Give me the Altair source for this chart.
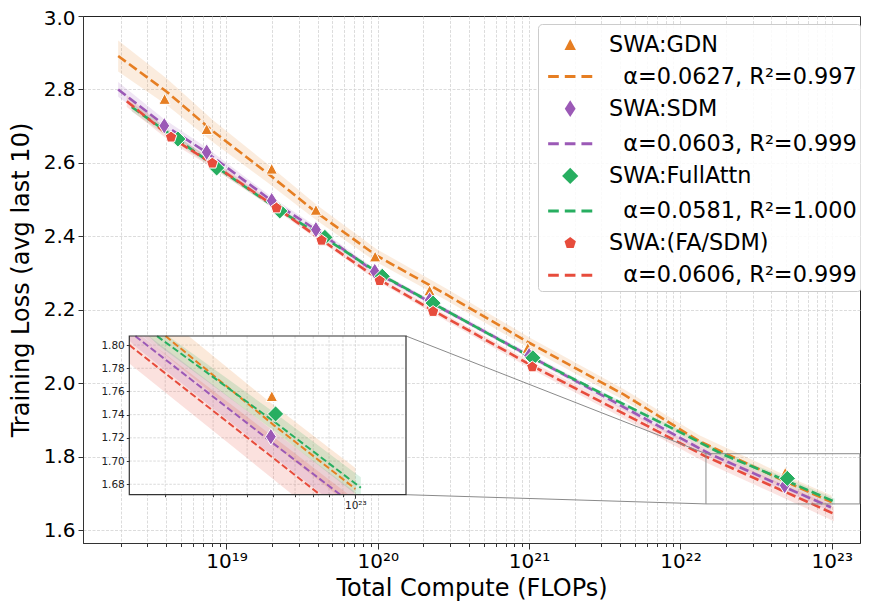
import altair as alt
import pandas as pd
import numpy as np

# ---------------- data ----------------
SERIES = ["SWA:GDN", "SWA:SDM", "SWA:FullAttn", "SWA:(FA/SDM)"]
FITS = ["α=0.0627, R²=0.997", "α=0.0603, R²=0.999", "α=0.0581, R²=1.000", "α=0.0606, R²=0.999"]
COLORS = ["#e67e22", "#9b59b6", "#27ae60", "#e74c3c"]

# measured runs: total compute (FLOPs) and training loss
GDN_C = [3.9e18, 7.4e18, 1.99e19, 3.9e19, 9.6e19, 2.2e20, 9.8e20, 4.93e22]
GDN_L = [2.774, 2.692, 2.584, 2.472, 2.345, 2.2525, 2.096, 1.756]
SDM_C = [3.88e18, 7.4e18, 1.99e19, 3.9e19, 9.55e19, 2.2e20, 1.0e21, 4.89e22]
SDM_L = [2.701, 2.629, 2.497, 2.418, 2.304, 2.226, 2.075, 1.721]
FULL_C = [4.77e18, 8.61e18, 2.25e19, 4.47e19, 1.07e20, 2.32e20, 1.06e21, 5.09e22]
FULL_L = [2.665, 2.586, 2.469, 2.397, 2.291, 2.218, 2.069, 1.7406]
FASDM_C = [4.3e18, 8.06e18, 2.14e19, 4.25e19, 1.03e20, 2.32e20, 1.05e21]
FASDM_L = [2.670, 2.599, 2.477, 2.389, 2.279, 2.195, 2.044]

# fitted curves: log10(compute), loss, band half-width
GDN_FIT_E = [18.284, 18.607, 18.911, 19.267, 19.597, 19.993, 20.455, 21.0, 21.63, 22.125, 22.7, 23.0]
GDN_FIT_L = [2.891, 2.793, 2.686, 2.573, 2.464, 2.347, 2.241, 2.110, 1.968, 1.842, 1.731, 1.676]
GDN_BAND = [0.042, 0.036, 0.030, 0.025, 0.021, 0.018, 0.016, 0.015, 0.015, 0.016, 0.017, 0.018]
SDM_FIT_E = [18.284, 18.589, 18.869, 19.298, 19.591, 19.98, 20.34, 21.0, 22.195, 22.699, 22.995]
SDM_FIT_L = [2.800, 2.703, 2.628, 2.497, 2.418, 2.303, 2.222, 2.075, 1.807, 1.715, 1.662]
SDM_BAND = [0.020, 0.016, 0.013, 0.010, 0.009, 0.008, 0.007, 0.007, 0.009, 0.011, 0.012]
FULL_FIT_E = [18.374, 18.678, 18.935, 19.353, 19.65, 20.031, 20.365, 21.025, 21.5, 22.0, 22.275, 22.707, 23.02]
FULL_FIT_L = [2.752, 2.663, 2.588, 2.470, 2.395, 2.293, 2.217, 2.068, 1.968, 1.866, 1.807, 1.733, 1.677]
FULL_BAND = [0.012, 0.010, 0.008, 0.006, 0.005, 0.005, 0.004, 0.004, 0.005, 0.006, 0.007, 0.008, 0.009]
FASDM_FIT_E = [18.341, 18.634, 18.906, 19.331, 19.628, 20.013, 20.365, 21.021, 22.169, 22.87, 23.015]
FASDM_FIT_L = [2.768, 2.669, 2.598, 2.478, 2.390, 2.281, 2.198, 2.047, 1.800, 1.671, 1.644]
FASDM_BAND = [0.016, 0.013, 0.011, 0.008, 0.007, 0.007, 0.008, 0.010, 0.016, 0.019, 0.020]

Y_TICKS = [1.6, 1.8, 2.0, 2.2, 2.4, 2.6, 2.8, 3.0]
INSET_Y_TICKS = [1.68, 1.70, 1.72, 1.74, 1.76, 1.78, 1.80]

POINTS_C = [GDN_C, SDM_C, FULL_C, FASDM_C]
POINTS_L = [GDN_L, SDM_L, FULL_L, FASDM_L]
FIT_E = [GDN_FIT_E, SDM_FIT_E, FULL_FIT_E, FASDM_FIT_E]
FIT_L = [GDN_FIT_L, SDM_FIT_L, FULL_FIT_L, FASDM_FIT_L]
FIT_B = [GDN_BAND, SDM_BAND, FULL_BAND, FASDM_BAND]

# ---------------- layout / style ----------------
W, H = 777, 527
PX_PER_DEC = 151.3
X_LO = 18.0516                          # log10 limits of the main x axis
X_HI = X_LO + W / PX_PER_DEC
Y_LO, Y_HI = 1.5646, 3.0
IX_LO, IX_HI = 22.169, 23.186          # inset limits
IY_LO, IY_HI = 1.671, 1.8078
IN_RX = [46.3, 323.0]                  # inset pixel box inside the plot
IN_RY = [478.7, 320.0]

FONT = "DejaVu Sans"
TRI = "M0,-0.36L0.38,0.36L-0.38,0.36Z"
THIN_D = "M0,-0.56L0.36,0L0,0.56L-0.36,0Z"
DIAM = "M0,-0.54L0.54,0L0,0.54L-0.54,0Z"
PENT = "M0,-0.4L0.38,-0.124L0.235,0.324L-0.235,0.324L-0.38,-0.124Z"
DASH = "M-1.47,0L-0.76,0M-0.36,0L0.35,0M0.75,0L1.47,0"
SHAPES = [TRI, THIN_D, DIAM, PENT]

SUP = {"0": "⁰", "1": "¹", "2": "²", "3": "³", "4": "⁴", "5": "⁵", "6": "⁶", "7": "⁷", "8": "⁸", "9": "⁹"}
LOGV = "(log(datum.value)/LN10)"
MAJOR = f"abs({LOGV} - round({LOGV})) < 0.001"


def exp_label_expr(exps):
    inner = "''"
    for e in reversed(exps):
        s = "".join(SUP[d] for d in str(e))
        inner = f"(round({LOGV}) == {e} ? '10{s}' : {inner})"
    return f"{MAJOR} ? {inner} : ''"


main_ticks = [k * 10.0 ** e for e in range(18, 23) for k in range(1, 10)] + [1e23]
main_ticks = [v for v in main_ticks if 10 ** X_LO <= v <= 10 ** X_HI]
inset_ticks = [k * 1e22 for k in range(2, 10)] + [1e23]

GRID = dict(grid=True, gridColor="#d3d3d3", gridDash=[3, 1.5], gridWidth=0.8)

x_main_scale = alt.Scale(type="log", domain=[10 ** X_LO, 10 ** X_HI], nice=False)
y_main_scale = alt.Scale(domain=[Y_LO, Y_HI], nice=False, zero=False)

x_main_axis = alt.Axis(
    values=main_ticks, labelExpr=exp_label_expr([19, 20, 21, 22, 23]),
    tickSize={"condition": {"test": MAJOR, "value": 6}, "value": 3.5},
    tickColor="#333", domainColor="#333", labelFontSize=20, labelFont=FONT,
    labelColor="black", labelPadding=2, labelOverlap=False, labelFlush=False,
    title="Total Compute (FLOPs)", titleFontSize=24, titleFont=FONT,
    titleFontWeight="normal", titleColor="black", titlePadding=5, **GRID)
y_main_axis = alt.Axis(
    values=Y_TICKS, format=".1f", tickSize=5, tickColor="#333", domainColor="#333",
    labelFontSize=20, labelFont=FONT, labelColor="black", labelPadding=3,
    labelFlush=False, labelOverlap=False,
    labelOffset={"condition": {"test": "datum.value > 2.99", "value": 2.5}, "value": 0},
    title="Training Loss (avg last 10)", titleFontSize=24, titleFont=FONT,
    titleFontWeight="normal", titleColor="black", titlePadding=10,
    grid=True, gridColor="#d3d3d3", gridDash=[3, 1.5], gridWidth=0.8,
    gridOpacity={"condition": {"test": "datum.value > 2.99", "value": 0}, "value": 1})


def XM(field="c"):
    return alt.X(f"{field}:Q", scale=x_main_scale, axis=x_main_axis)


def YM(field="l"):
    return alt.Y(f"{field}:Q", scale=y_main_scale, axis=y_main_axis)


x_in_scale = alt.Scale(type="log", domain=[10 ** IX_LO, 10 ** IX_HI], range=IN_RX, nice=False, clamp=True)
y_in_scale = alt.Scale(domain=[IY_LO, IY_HI], range=IN_RY, nice=False, zero=False, clamp=True)
x_in_axis = alt.Axis(
    orient="bottom", offset=-(H - IN_RY[0]), values=inset_ticks,
    labelExpr=exp_label_expr([23]),
    tickSize={"condition": {"test": MAJOR, "value": 3.5}, "value": 2},
    tickColor="#333", domain=False, grid=False, labelFontSize=10.5, labelFont=FONT,
    labelColor="#222", labelPadding=2, labelOverlap=False, labelFlush=False,
    title=None, zindex=1)
y_in_axis = alt.Axis(
    orient="left", offset=-IN_RX[0], values=INSET_Y_TICKS, format=".2f",
    tickSize=3, tickColor="#333", domain=False, grid=False, labelFontSize=10.5,
    labelFont=FONT, labelColor="#222", labelPadding=2, labelOverlap=False,
    labelFlush=False, title=None, zindex=1)


def XI(field="c"):
    return alt.X(f"{field}:Q", scale=x_in_scale, axis=x_in_axis)


def YI(field="l"):
    return alt.Y(f"{field}:Q", scale=y_in_scale, axis=y_in_axis)


# ---------------- helpers for the inset clipping ----------------
def clip_segment(x0, y0, x1, y1):
    dx, dy = x1 - x0, y1 - y0
    t0, t1 = 0.0, 1.0
    for p, q in ((-dx, x0 - IX_LO), (dx, IX_HI - x0), (-dy, y0 - IY_LO), (dy, IY_HI - y0)):
        if p == 0:
            if q < 0:
                return None
        else:
            t = q / p
            if p < 0:
                t0 = max(t0, t)
            else:
                t1 = min(t1, t)
    if t0 > t1:
        return None
    return (x0 + t0 * dx, y0 + t0 * dy), (x0 + t1 * dx, y0 + t1 * dy)


def clip_polyline(xs, ys):
    pts = []
    for i in range(len(xs) - 1):
        seg = clip_segment(xs[i], ys[i], xs[i + 1], ys[i + 1])
        if seg:
            for p in seg:
                if not pts or abs(pts[-1][0] - p[0]) > 1e-9:
                    pts.append(p)
    return pts


def clip_band(xs, ups, los):
    xs = np.array(xs)
    ups = np.array(ups)
    los = np.array(los)
    lo_x, hi_x = max(IX_LO, xs[0]), min(IX_HI, xs[-1])
    cand = {lo_x, hi_x} | {x for x in xs if lo_x <= x <= hi_x}
    for arr in (ups, los):
        for i in range(len(xs) - 1):
            for lvl in (IY_LO, IY_HI):
                a, b = arr[i] - lvl, arr[i + 1] - lvl
                if a * b < 0:
                    xc = xs[i] + (xs[i + 1] - xs[i]) * a / (a - b)
                    if lo_x <= xc <= hi_x:
                        cand.add(xc)
    rows = []
    for x in sorted(cand):
        u = float(np.clip(np.interp(x, xs, ups), IY_LO, IY_HI))
        lo = float(np.clip(np.interp(x, xs, los), IY_LO, IY_HI))
        rows.append({"c": 10 ** x, "u": u, "lo": lo})
    return pd.DataFrame(rows)


# ---------------- main panel ----------------
main_layers = []
inset_bands, inset_lines, inset_points = [], [], []
for i in range(4):
    e = np.array(FIT_E[i])
    ly = np.array(FIT_L[i])
    hw = np.array(FIT_B[i])
    band = pd.DataFrame({"c": 10 ** e, "u": ly + hw, "lo": ly - hw})
    main_layers.append(
        alt.Chart(band).mark_area(color=COLORS[i], opacity=0.15).encode(
            x=XM(), y=YM("u"), y2=alt.Y2("lo:Q")))
    ib = clip_band(e, ly + hw, ly - hw)
    inset_bands.append(
        alt.Chart(ib).mark_area(color=COLORS[i], opacity=0.17).encode(
            x=XI(), y=YI("u"), y2=alt.Y2("lo:Q")))
    pts = clip_polyline(list(e), list(ly))
    il = pd.DataFrame({"c": [10 ** p[0] for p in pts], "l": [p[1] for p in pts]})
    inset_lines.append(
        alt.Chart(il).mark_line(color=COLORS[i], strokeWidth=2, strokeDash=[6.7, 3]).encode(
            x=XI(), y=YI(), order="c:Q"))

for i in range(4):
    line = pd.DataFrame({"c": 10 ** np.array(FIT_E[i]), "l": FIT_L[i]})
    main_layers.append(
        alt.Chart(line).mark_line(color=COLORS[i], strokeWidth=2.6, strokeDash=[9.5, 4]).encode(
            x=XM(), y=YM(), order="c:Q"))

for i in range(4):
    p = pd.DataFrame({"c": POINTS_C[i], "l": POINTS_L[i]})
    main_layers.append(
        alt.Chart(p).mark_point(shape=SHAPES[i], filled=True, fill=COLORS[i], stroke="white",
                                strokeWidth=1, size=900, opacity=1).encode(x=XM(), y=YM()))
    pin = p[(np.log10(p["c"]) > IX_LO) & (np.log10(p["c"]) < IX_HI) & (p["l"] > IY_LO) & (p["l"] < IY_HI)]
    if len(pin):
        inset_points.append(
            alt.Chart(pin).mark_point(shape=SHAPES[i], filled=True, fill=COLORS[i], stroke="white",
                                      strokeWidth=1, size=900, opacity=1).encode(x=XI(), y=YI()))

# zoom indicator rectangle and connector lines (in main data units)
zoom_box = pd.DataFrame({"c": [10 ** IX_LO], "c2": [10 ** IX_HI], "l": [IY_LO], "l2": [IY_HI]})
main_layers.append(
    alt.Chart(zoom_box).mark_rect(filled=False, stroke="#8a8a8a", strokeWidth=1).encode(
        x=XM(), x2=alt.X2("c2:Q"), y=YM(), y2=alt.Y2("l2:Q")))
corner_e = X_LO + IN_RX[1] / W * (X_HI - X_LO)
corner_top = Y_HI - IN_RY[1] / H * (Y_HI - Y_LO)
corner_bot = Y_HI - IN_RY[0] / H * (Y_HI - Y_LO)
connectors = pd.DataFrame({"c": [10 ** corner_e, 10 ** corner_e], "c2": [10 ** IX_LO, 10 ** IX_LO],
                           "l": [corner_top, corner_bot], "l2": [IY_HI, IY_LO]})
main_layers.append(
    alt.Chart(connectors).mark_rule(color="#8a8a8a", strokeWidth=1).encode(
        x=XM(), x2=alt.X2("c2:Q"), y=YM(), y2=alt.Y2("l2:Q")))

# legend (entries drawn by the legend; the carrier points lie outside the view and are clipped)
ZW = "\u200b"
leg_labels, leg_fill, leg_stroke, leg_shape = [], [], [], []
for i in range(4):
    leg_labels += [SERIES[i], ZW + "\u00a0\u00a0" + FITS[i]]
    leg_fill += [COLORS[i], COLORS[i]]
    leg_stroke += ["transparent", COLORS[i]]
    leg_shape += [SHAPES[i], DASH]
leg_df = pd.DataFrame({"label": leg_labels, "c": [1e20] * 8, "l": [10.0] * 8})
legend = alt.Legend(
    title=None, orient="none", legendX=455, legendY=8, padding=4, rowPadding=4.1,
    symbolSize=900, symbolOffset=11.7, labelOffset=22.3, labelFontSize=22.4, labelFont=FONT,
    labelColor="black", labelLimit=600, strokeColor="#cccccc", fillColor="rgba(255,255,255,0.85)",
    cornerRadius=4, symbolStrokeWidth=3, symbolOpacity=1)
main_layers.append(
    alt.Chart(leg_df).mark_point(filled=True, size=900, strokeWidth=3, opacity=1, clip=True).encode(
        x=XM(), y=YM(),
        fill=alt.Fill("label:N", scale=alt.Scale(domain=leg_labels, range=leg_fill), legend=legend),
        stroke=alt.Stroke("label:N", scale=alt.Scale(domain=leg_labels, range=leg_stroke)),
        shape=alt.Shape("label:N", scale=alt.Scale(domain=leg_labels, range=leg_shape))))

main = alt.LayerChart(layer=main_layers)

# ---------------- inset ----------------
inset_box = pd.DataFrame({"c": [10 ** IX_LO], "c2": [10 ** IX_HI], "l": [IY_LO], "l2": [IY_HI]})
vgrid = pd.DataFrame({"c": inset_ticks, "l": [IY_LO] * len(inset_ticks), "l2": [IY_HI] * len(inset_ticks)})
hgrid = pd.DataFrame({"l": INSET_Y_TICKS, "c": [10 ** IX_LO] * 7, "c2": [10 ** IX_HI] * 7})
inset_layers = [
    alt.Chart(inset_box).mark_rect(fill="white", strokeWidth=0).encode(
        x=XI(), x2=alt.X2("c2:Q"), y=YI(), y2=alt.Y2("l2:Q")),
    alt.Chart(vgrid).mark_rule(color="#d0d0d0", strokeWidth=0.8, strokeDash=[2.5, 1.5]).encode(
        x=XI(), y=YI(), y2=alt.Y2("l2:Q")),
    alt.Chart(hgrid).mark_rule(color="#d0d0d0", strokeWidth=0.8, strokeDash=[2.5, 1.5]).encode(
        x=XI(), x2=alt.X2("c2:Q"), y=YI()),
] + inset_bands + inset_lines + inset_points + [
    alt.Chart(inset_box).mark_rect(filled=False, stroke="#333333", strokeWidth=1.2).encode(
        x=XI(), x2=alt.X2("c2:Q"), y=YI(), y2=alt.Y2("l2:Q")),
]
inset = alt.LayerChart(layer=inset_layers)

chart = alt.LayerChart(layer=[main, inset]).resolve_scale(x="independent", y="independent").properties(
    width=W, height=H,
    padding={"left": 75, "top": 8, "right": 1, "bottom": 58},
    autosize=alt.AutoSizeParams(type="none"),
).configure(font=FONT).configure_view(stroke="#222222", strokeWidth=1)

chart.save("out.html", embed_options={"renderer": "svg", "actions": False})
